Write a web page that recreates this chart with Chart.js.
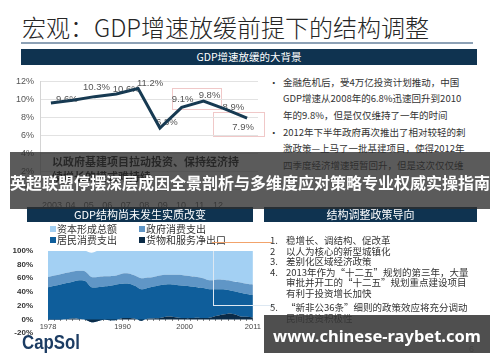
<!DOCTYPE html>
<html><head><meta charset="utf-8">
<script src="https://cdn.jsdelivr.net/npm/chart.js@4.4.0/dist/chart.umd.min.js"></script>
<style>
html,body{margin:0;padding:0;background:#fff;}
body{width:500px;height:362px;position:relative;overflow:hidden;font-family:"Noto Sans CJK SC","Liberation Sans",sans-serif;color:#333;}
.a{position:absolute;white-space:nowrap;}
.bar{position:absolute;background:#0f3350;color:#fff;text-align:center;}
.t95{font-size:9.5px;line-height:12px;color:#333;}
.sq{position:absolute;width:6px;height:6px;}
canvas{position:absolute;}
</style></head><body>

<div class="a" style="left:22px;top:13px;font-size:24px;line-height:28px;font-weight:300;color:#262626;">宏观：GDP增速放缓前提下的结构调整</div>
<div class="a" style="left:21px;top:42px;width:452px;height:2px;background:#8da1b5;"></div>
<div class="bar" style="left:21px;top:49px;width:456px;height:16px;line-height:16px;font-size:10.5px;">GDP增速放缓的大背景</div>

<div class="a" style="left:172px;top:88px;width:48px;height:20px;border:1px solid #f0c8c8;"></div>
<div class="a" style="left:213px;top:112px;width:50px;height:23px;border:1px solid #f0c8c8;"></div>

<canvas id="c1" width="262" height="140" style="left:0;top:70px;"></canvas>

<div class="a t95" style="left:269px;top:75.5px;">•</div>
<div class="a t95" style="left:283px;top:75.5px;">金融危机后，受4万亿投资计划推动，中国</div>
<div class="a t95" style="left:283px;top:91.5px;">GDP增速从2008年的6.8%迅速回升到2010</div>
<div class="a t95" style="left:283px;top:108.5px;">年的9.8%，但是仅仅维持了一年的时间</div>
<div class="a t95" style="left:269px;top:125.5px;">•</div>
<div class="a t95" style="left:283px;top:125.5px;">2012年下半年政府再次推出了相对较轻的刺</div>
<div class="a t95" style="left:283px;top:141.5px;">激政策—上马了一批基建项目，使得2012年</div>
<div class="a t95" style="left:283px;top:158.5px;">四季度经济增速短暂回升，但是这次仅仅维</div>

<div class="a" style="left:52px;top:155px;font-size:11px;line-height:13px;font-weight:bold;color:#111;">以政府基建项目拉动投资、保持经济持</div>
<div class="a" style="left:52px;top:170px;font-size:11px;line-height:13px;font-weight:bold;color:#111;">续增长的模式难持续</div>

<div class="bar" style="left:27px;top:207px;width:226px;height:15px;line-height:15px;font-size:11px;">GDP结构尚未发生实质改变</div>
<div class="bar" style="left:264px;top:207px;width:213px;height:15px;line-height:15px;font-size:11px;">结构调整政策导向</div>

<div class="a" style="left:10px;top:152px;width:480px;height:57px;background:rgba(45,45,45,0.78);"></div>
<div class="a" style="left:10px;top:172px;width:480px;text-align:center;font-size:16px;line-height:20px;font-weight:bold;color:#fff;">英超联盟停摆深层成因全景剖析与多维度应对策略专业权威实操指南</div>

<div id="legend"></div>

<canvas id="c2" width="262" height="106" style="left:0;top:239px;"></canvas>
<div class="a" style="left:212px;top:242px;width:60px;height:0;border-top:1px solid #f2a36b;"></div>
<div class="a" style="left:213px;top:251px;width:60px;height:54px;border-left:1px solid #dde8f2;border-bottom:1px solid #dde8f2;"></div>

<div class="a" style="left:22px;top:330px;font-family:'Liberation Sans',Arial,sans-serif;font-weight:bold;font-size:21px;line-height:24px;color:#1c3c63;transform:scaleX(0.8);transform-origin:0 0;">CapSol</div>

<div class="a t95" style="left:270px;top:233.5px;">1.</div><div class="a t95" style="left:286px;top:233.5px;">稳增长、调结构、促改革</div>
<div class="a t95" style="left:270px;top:244.5px;">2</div><div class="a t95" style="left:286px;top:244.5px;">以人为核心的新型城镇化</div>
<div class="a t95" style="left:270px;top:254.5px;">3.</div><div class="a t95" style="left:286px;top:254.5px;">差别化区域经济政策</div>
<div class="a t95" style="left:270px;top:265.5px;">4.</div><div class="a t95" style="left:286px;top:265.5px;">2013年作为“十二五”规划的第三年，大量</div>
<div class="a t95" style="left:286px;top:275.5px;">审批并开工的“十二五”规划重点建设项目</div>
<div class="a t95" style="left:286px;top:286.5px;">有利于投资增长加快</div>
<div class="a t95" style="left:270px;top:300.5px;">5.</div><div class="a t95" style="left:286px;top:300.5px;">“新非公36条”细则的政策效应将充分调动</div>
<div class="a t95" style="left:286px;top:311.5px;">民间投资积极性</div>
<div class="a" style="left:469px;top:343px;font-size:9px;line-height:12px;color:#999;font-family:'Liberation Sans',sans-serif;">6</div>

<div class="a" style="left:264px;top:315px;width:226px;height:38px;background:rgba(55,55,55,0.88);"></div>
<div class="a" style="left:264px;top:326px;width:226px;text-align:center;font-family:'Noto Sans','Open Sans',sans-serif;font-weight:bold;font-size:16.5px;line-height:20px;color:#fff;">www.chinese-raybet.com</div>

<script>
// ---------- GDP growth (top-left chart), % ----------
const GDP_YEARS = ['2003','2004','2005','2006','2007','2008','2009','2010','2011','2012'];
const GDP_GROWTH = [9.6, 9.9, 10.3, 10.6, 11.2, 6.8, 9.1, 9.8, 8.9, 7.9];
const GDP_VALUE_LABELS = ['9.6%', '', '10.3%', '10.6%', '11.2%', '6.8%', '9.1%', '9.8%', '8.9%', '7.9%'];
const GDP_TICK_YEARS = [2003, 2004, 2005, 2006, 2007, 2008, 2009, 2010, 2011, 2012];
const GDP_TICK_LABELS = ['2003', '04', '05', '06', '07', '08', '09', '10', '11', '12'];

// ---------- GDP expenditure structure (bottom-left chart), % of GDP ----------
const STRUCT_YEARS = ['1978','1979','1980','1981','1982','1983','1984','1985','1986','1987','1988','1989','1990','1991','1992','1993','1994','1995','1996','1997','1998','1999','2000','2001','2002','2003','2004','2005','2006','2007','2008','2009','2010','2011'];
const STRUCT_SHOWN_YEARS = ['1978', '1990', '2000', '2011'];
const SERIES_NAMES = ['货物和服务净出口', '居民消费支出', '政府消费支出', '资本形成总额'];
const NET_EXPORTS = [-0.3,-0.5,-0.3,0.3,1.5,0.8,-0.5,-4.0,-2.5,-0.5,-1.0,-0.8,2.0,2.0,1.0,-1.8,1.0,1.5,2.0,4.0,4.0,2.5,2.0,2.0,2.5,2.0,2.5,5.0,7.0,8.5,7.5,4.5,3.8,2.8];
const HOUSEHOLD   = [47.3,49.5,51.3,52.7,53.5,56.2,56.5,51.0,49.5,48.5,50.0,51.8,50.0,50.0,48.0,45.8,45.0,46.5,48.0,47.0,47.0,47.5,47.0,46.0,44.5,44.0,41.5,39.0,37.0,34.5,33.5,34.5,33.2,33.2];
const GOVERNMENT  = [15,15,15,15,15,14,14,15,15,15,14,13,15,15,15,16,15,14,14,14,14,15,15,15,15,14,13,14,14,14,14,15,15,15];
const CAPITAL     = [38,36,34,32,30,29,30,35,38,37,37,36,33,33,36,40,39,38,36,35,35,35,36,37,38,40,43,42,42,43,45,46,48,49];
const SERIES_COLORS = ['#0b2b47', '#0f5e9b', '#6096c6', '#a3d0f3'];

const numFont = '"Liberation Sans", Arial, sans-serif';

const labelPlugin = {
  id: 'gdpLabels',
  beforeDatasetsDraw(chart) {
    const offsets = [[16,-4],[0,0],[2,-9],[10,-5],[12,-5],[7,-6],[1,-8],[6,-6],[8,-2],[-4,9]];
    const meta = chart.getDatasetMeta(0);
    const ctx = chart.ctx;
    ctx.save();
    ctx.font = '9.5px ' + numFont;
    ctx.fillStyle = '#555';
    ctx.textAlign = 'center';
    ctx.textBaseline = 'middle';
    meta.data.forEach((pt, i) => {
      const t = GDP_VALUE_LABELS[i];
      if (!t) return;
      ctx.fillText(t, pt.x + offsets[i][0], pt.y + offsets[i][1]);
    });
    ctx.restore();
  }
};

new Chart(document.getElementById('c1'), {
  type: 'line',
  data: {
    labels: GDP_YEARS,
    datasets: [{ data: GDP_GROWTH, borderColor: '#173a52', borderWidth: 3, pointRadius: 0, tension: 0, xAxisID: 'x', yAxisID: 'y' }]
  },
  options: {
    responsive: false, animation: false, devicePixelRatio: 1,
    layout: { padding: { top: 11, right: 4, left: 0, bottom: 0 } },
    plugins: { legend: { display: false }, tooltip: { enabled: false } },
    scales: {
      x: { type: 'category', display: false, offset: true },
      x2: {
        type: 'linear', position: 'bottom', min: 2002.35, max: 2014.17,
        grid: { display: false }, border: { display: false },
        afterBuildTicks: (s) => { s.ticks = GDP_TICK_YEARS.map(v => ({ value: v })); },
        ticks: { autoSkip: false, maxRotation: 0, padding: 3, color: '#5a5a5a', font: { family: numFont, size: 9 },
          callback: (v) => { const i = GDP_TICK_YEARS.indexOf(v); return i >= 0 ? GDP_TICK_LABELS[i] : ''; } },
        afterFit: (s) => { s.height = 21; }
      },
      y: {
        min: 0, max: 12,
        ticks: { stepSize: 2, padding: 6, color: '#555', font: { family: numFont, size: 9 }, callback: (v) => v + '%' },
        grid: { color: '#e2e2e2', drawTicks: false },
        border: { color: '#d4d4d4' },
        afterFit: (s) => { s.width = 40; }
      }
    }
  },
  plugins: [labelPlugin]
});

// legend (HTML) built from the series arrays
(function () {
  const order = [[3, 50, 223.4], [2, 139, 223.4], [1, 50, 234.4], [0, 139, 234.4]];
  const host = document.getElementById('legend');
  order.forEach(([i, x, top]) => {
    const sq = document.createElement('div');
    sq.className = 'sq';
    sq.style.cssText = `left:${x}px;top:${top + 3}px;background:${SERIES_COLORS[i]};`;
    host.appendChild(sq);
    const tx = document.createElement('div');
    tx.className = 'a';
    tx.style.cssText = `left:${x + 7}px;top:${top}px;font-size:10px;line-height:12px;color:#333;`;
    tx.textContent = SERIES_NAMES[i];
    host.appendChild(tx);
  });
})();

const seriesData = [NET_EXPORTS, HOUSEHOLD, GOVERNMENT, CAPITAL];
new Chart(document.getElementById('c2'), {
  type: 'line',
  data: {
    labels: STRUCT_YEARS,
    datasets: seriesData.map((d, i) => ({
      label: SERIES_NAMES[i], data: d,
      backgroundColor: SERIES_COLORS[i], borderColor: SERIES_COLORS[i], borderWidth: 0,
      pointRadius: 0, tension: 0.3, fill: i === 0 ? 'origin' : '-1'
    }))
  },
  options: {
    responsive: false, animation: false, devicePixelRatio: 1,
    layout: { padding: { top: 11, right: 8, left: 0, bottom: 6 } },
    plugins: { legend: { display: false }, tooltip: { enabled: false } },
    scales: {
      x: {
        type: 'category', offset: false, position: { y: 0 },
        grid: { drawOnChartArea: false, drawTicks: true, tickLength: 2, color: '#8a8a8a' },
        border: { display: false },
        ticks: { autoSkip: false, maxRotation: 0, padding: 1, color: '#444', font: { family: numFont, size: 7.5 },
          callback: function (v, i) { const y = STRUCT_YEARS[i]; return STRUCT_SHOWN_YEARS.includes(y) ? y : ''; } },
        afterFit: (s) => { s.height = 0; }
      },
      y: {
        stacked: 'single', min: -20, max: 100,
        ticks: { stepSize: 20, padding: 7, color: '#333', font: { family: numFont, size: 8, weight: 'bold' }, callback: (v) => v + '%' },
        grid: { display: false }, border: { display: false },
        afterFit: (s) => { s.width = 48; }
      }
    }
  }
});
</script>
</body></html>
